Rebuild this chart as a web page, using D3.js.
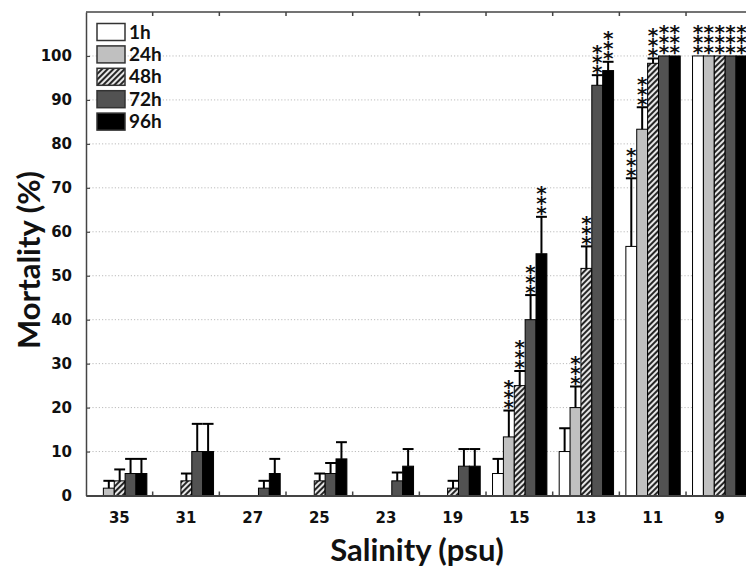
<!DOCTYPE html>
<html>
<head>
<meta charset="utf-8">
<script src="https://cdn.jsdelivr.net/npm/d3@7"></script>
<style>
  html, body { margin: 0; padding: 0; background: #fff; }
  svg { display: block; }
</style>
</head>
<body>
<svg id="chart" width="746" height="570"></svg>
<script>
// Salinity groups (psu) and exposure times
const salinity = ["35", "31", "27", "25", "23", "19", "15", "13", "11", "9"];
const series = ["1h", "24h", "48h", "72h", "96h"];

// Mean mortality (%) per exposure time, one value per salinity group
const mort1h  = [0, 0, 0, 0, 0, 0, 5, 10, 56.67, 100];
const mort24h = [1.67, 0, 0, 0, 0, 0, 13.33, 20, 83.33, 100];
const mort48h = [3.33, 3.33, 0, 3.33, 0, 1.67, 25, 51.67, 98.33, 100];
const mort72h = [5, 10, 1.67, 5, 3.33, 6.67, 40, 93.33, 100, 100];
const mort96h = [5, 10, 5, 8.33, 6.67, 6.67, 55, 96.67, 100, 100];

// Standard error (%) drawn as upper error bars
const err1h  = [0, 0, 0, 0, 0, 0, 3.33, 5.3, 15.5, 0];
const err24h = [1.67, 0, 0, 0, 0, 0, 6, 4.8, 5, 0];
const err48h = [2.6, 1.67, 0, 1.67, 0, 1.67, 3.33, 5, 1.1, 0];
const err72h = [3.33, 6.3, 1.67, 2.4, 1.9, 3.9, 5.6, 2.3, 0, 0];
const err96h = [3.33, 6.3, 3.33, 3.8, 3.9, 3.9, 8.4, 2.0, 0, 0];

// Significance markers above each bar
const sig1h  = ["", "", "", "", "", "", "", "", "***", "***"];
const sig24h = ["", "", "", "", "", "", "***", "***", "***", "***"];
const sig48h = ["", "", "", "", "", "", "***", "***", "***", "***"];
const sig72h = ["", "", "", "", "", "", "***", "***", "***", "***"];
const sig96h = ["", "", "", "", "", "", "***", "***", "***", "***"];

const yTicks = [0, 10, 20, 30, 40, 50, 60, 70, 80, 90, 100];
const gridTicks = [10, 20, 30, 40, 50, 60, 70, 80, 90, 100];

const means = [mort1h, mort24h, mort48h, mort72h, mort96h];
const errs = [err1h, err24h, err48h, err72h, err96h];
const sigs = [sig1h, sig24h, sig48h, sig72h, sig96h];

const fills = { "1h": "#ffffff", "24h": "#c0c0c0", "48h": "url(#hatch)", "72h": "#525252", "96h": "#000000" };

// flat table of bars
const rows = [];
salinity.forEach((s, gi) => {
  series.forEach((k, si) => {
    rows.push({ sal: s, key: k, value: means[si][gi], err: errs[si][gi], sig: sigs[si][gi] });
  });
});

const svg = d3.select("#chart");
const plotLeft = 86, plotTop = 12, plotBottom = 495.5;
const groupW = 66.67;

const x0 = d3.scaleBand().domain(salinity).range([plotLeft, plotLeft + groupW * salinity.length]);
const x1 = d3.scaleBand().domain(series).range([6.5, x0.bandwidth() - 5.8]);
const y = d3.scaleLinear().domain([0, 110]).range([plotBottom, plotTop]);

// diagonal hatch fill
const defs = svg.append("defs");
const pat = defs.append("pattern")
  .attr("id", "hatch")
  .attr("patternUnits", "userSpaceOnUse")
  .attr("width", 4).attr("height", 4)
  .attr("patternTransform", "rotate(45)");
pat.append("rect").attr("width", 4).attr("height", 4).attr("fill", "#e6e6e6");
pat.append("line").attr("x1", 1).attr("x2", 1).attr("y1", 0).attr("y2", 4)
  .attr("stroke", "#111").attr("stroke-width", 1.8);

// dotted gridlines
svg.append("g").selectAll("line").data(gridTicks).join("line")
  .attr("x1", plotLeft).attr("x2", 746)
  .attr("y1", d => y(d)).attr("y2", d => y(d))
  .attr("stroke", "#bcbcbc").attr("stroke-width", 1)
  .attr("stroke-dasharray", "1.2 2");

// bars
svg.append("g").selectAll("rect").data(rows).join("rect")
  .attr("x", d => x0(d.sal) + x1(d.key))
  .attr("width", x1.bandwidth())
  .attr("y", d => y(d.value))
  .attr("height", d => y(0) - y(d.value))
  .attr("fill", d => fills[d.key])
  .attr("stroke", d => d.value > 0 ? "#000" : "none")
  .attr("stroke-width", 1);

// error bars
const errRows = rows.filter(d => d.err > 0);
const eg = svg.append("g").attr("stroke", "#000").attr("stroke-width", 2);
eg.selectAll("line.v").data(errRows).join("line").attr("class", "v")
  .attr("x1", d => x0(d.sal) + x1(d.key) + x1.bandwidth() / 2)
  .attr("x2", d => x0(d.sal) + x1(d.key) + x1.bandwidth() / 2)
  .attr("y1", d => y(d.value)).attr("y2", d => y(d.value + d.err));
eg.selectAll("line.c").data(errRows).join("line").attr("class", "c")
  .attr("x1", d => x0(d.sal) + x1(d.key))
  .attr("x2", d => x0(d.sal) + x1(d.key) + x1.bandwidth())
  .attr("y1", d => y(d.value + d.err)).attr("y2", d => y(d.value + d.err));

// significance asterisks, stacked in a column above each marked bar
const sigRows = rows.filter(d => d.sig);
const stars = svg.append("g").selectAll("text").data(sigRows).join("text")
  .attr("text-anchor", "middle")
  .style("font", "bold 20px 'DejaVu Sans'")
  .attr("fill", "#111");
stars.each(function(d) {
  const cx = x0(d.sal) + x1(d.key) + x1.bandwidth() / 2;
  const base = y(d.value + d.err) + 3.5;
  d.sig.split("").forEach((c, i) => {
    d3.select(this).append("tspan")
      .attr("x", cx).attr("y", base - i * 10)
      .text(c);
  });
});

// frame: top line with group ticks
svg.append("line").attr("x1", plotLeft).attr("x2", 746).attr("y1", plotTop).attr("y2", plotTop)
  .attr("stroke", "#444").attr("stroke-width", 1.5);
const bounds = salinity.slice(1).map(s => x0(s));
svg.append("g").selectAll("line").data(bounds).join("line")
  .attr("x1", d => d).attr("x2", d => d).attr("y1", plotTop).attr("y2", plotTop + 4)
  .attr("stroke", "#444").attr("stroke-width", 1.5);
svg.append("g").selectAll("line").data(bounds).join("line")
  .attr("x1", d => d).attr("x2", d => d).attr("y1", plotBottom).attr("y2", plotBottom - 4)
  .attr("stroke", "#444").attr("stroke-width", 1.5);

// y axis
const yAxis = svg.append("g").attr("transform", `translate(${plotLeft},0)`)
  .call(d3.axisLeft(y).tickValues(yTicks).tickSizeInner(-4).tickSizeOuter(0).tickPadding(14));
yAxis.select(".domain").attr("stroke", "#444").attr("stroke-width", 1.5);
yAxis.selectAll(".tick line").attr("stroke", "#444").attr("stroke-width", 1.2);
yAxis.selectAll(".tick text")
  .style("font", "bold 15px 'DejaVu Sans'").attr("fill", "#111");

// x axis
const xAxis = svg.append("g").attr("transform", `translate(0,${plotBottom})`)
  .call(d3.axisBottom(x0).tickSize(0).tickPadding(17));
xAxis.select(".domain").attr("stroke", "#444").attr("stroke-width", 2);
xAxis.selectAll(".tick text")
  .style("font", "bold 15px 'DejaVu Sans'").attr("fill", "#111");

// axis titles
svg.append("text")
  .attr("x", 417).attr("y", 561)
  .attr("text-anchor", "middle")
  .style("font", "bold 31px Lato")
  .attr("fill", "#111")
  .text("Salinity (psu)");
svg.append("text")
  .attr("transform", "translate(40,260) rotate(-90)")
  .attr("text-anchor", "middle")
  .style("font", "bold 31px Lato")
  .attr("fill", "#111")
  .text("Mortality (%)");

// legend
const lg = svg.append("g");
series.forEach((k, i) => {
  const cy = 32 + i * 22.4;
  lg.append("rect")
    .attr("x", 97).attr("y", cy - 8.5).attr("width", 28).attr("height", 17)
    .attr("fill", fills[k]).attr("stroke", "#333").attr("stroke-width", 1.5);
  lg.append("text")
    .attr("x", 129).attr("y", cy + 6.5)
    .style("font", "bold 19px Lato")
    .attr("fill", "#111")
    .text(k);
});
</script>
</body>
</html>
